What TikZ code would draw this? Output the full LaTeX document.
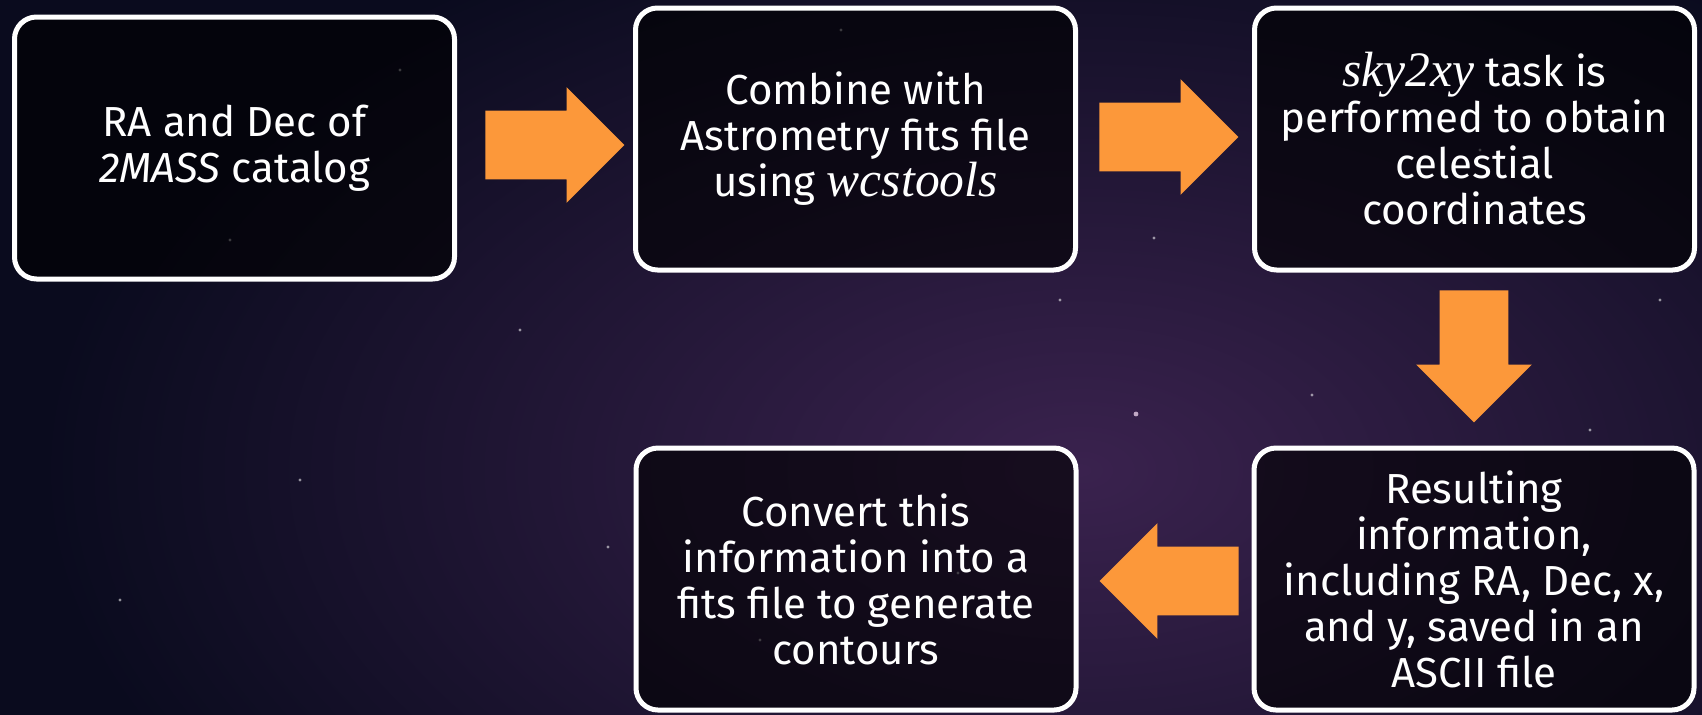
\documentclass[tikz,border=0pt]{standalone}
\usepackage{fontspec}
\setmainfont{Fira Sans}
\newfontfamily\serifit[Scale=1.18]{Liberation Serif}
\usetikzlibrary{shapes.arrows}

\definecolor{skynavy}{RGB}{10,11,30}
\definecolor{skyhaze}{RGB}{58,34,78}
\definecolor{flowarrow}{RGB}{252,152,58}
\newcommand{\toolname}[1]{{\serifit\itshape #1}}

\begin{document}
\begin{tikzpicture}[x=0.5pt,y=-0.5pt,
  stepbox/.style={draw=white, line width=2.5pt, rounded corners=11pt,
    fill=black, fill opacity=0.6, text opacity=1, text=white,
    minimum width=220pt, minimum height=131pt, inner sep=0pt,
    align=center, font=\fontsize{21}{23}\selectfont},
  blockarrow/.style={single arrow, fill=flowarrow, draw=none,
    inner sep=17pt, minimum height=69.5pt, anchor=tip,
    single arrow head extend=11.75pt, single arrow tip angle=90}]
\useasboundingbox (0,0) rectangle (1702,714);

% night sky
\begin{scope}
\clip (0,0) rectangle (1702,714);
\fill[skynavy] (-10,-10) rectangle (1712,724);
\shade[inner color=skyhaze, outer color=skynavy] (1080,470) ellipse [x radius=520pt, y radius=300pt];
\foreach \sx/\sy in {841/30, 1154/238, 958/573, 608/547, 1312/395, 400/70, 1480/150, 300/480, 1060/300,
                     760/640, 1590/430, 120/600, 520/330, 1400/660, 230/240, 1660/300}
  \fill[white, opacity=0.55] (\sx,\sy) circle (0.8pt);
\fill[white!80!violet, opacity=0.8] (1136,414) circle (1.2pt);
\end{scope}

% steps
\node[stepbox] (catalog) at (234.5,148) {RA and Dec of\\ \textit{2MASS} catalog};
\node[stepbox] (combine) at (855.5,139) {Combine with\\ Astrometry fits file\\ using \toolname{wcstools}};
\node[stepbox] (skyxy) at (1474.5,139) {\toolname{sky2xy} task is\\ performed to obtain\\ celestial\\ coordinates};
\node[stepbox] (result) at (1474,579) {Resulting\\ information,\\ including RA, Dec, x,\\ and y, saved in an\\ ASCII file};
\node[stepbox] (contour) at (856,579) {Convert this\\ information into a\\ fits file to generate\\ contours};

% flow
\node[blockarrow] (arr1) at (625,145) {};
\node[blockarrow] (arr2) at (1239,137) {};
\node[blockarrow, shape border rotate=270, minimum height=66pt] (arr3) at (1474,423) {};
\node[blockarrow, shape border rotate=180] (arr4) at (1099,581) {};
\end{tikzpicture}
\end{document}
